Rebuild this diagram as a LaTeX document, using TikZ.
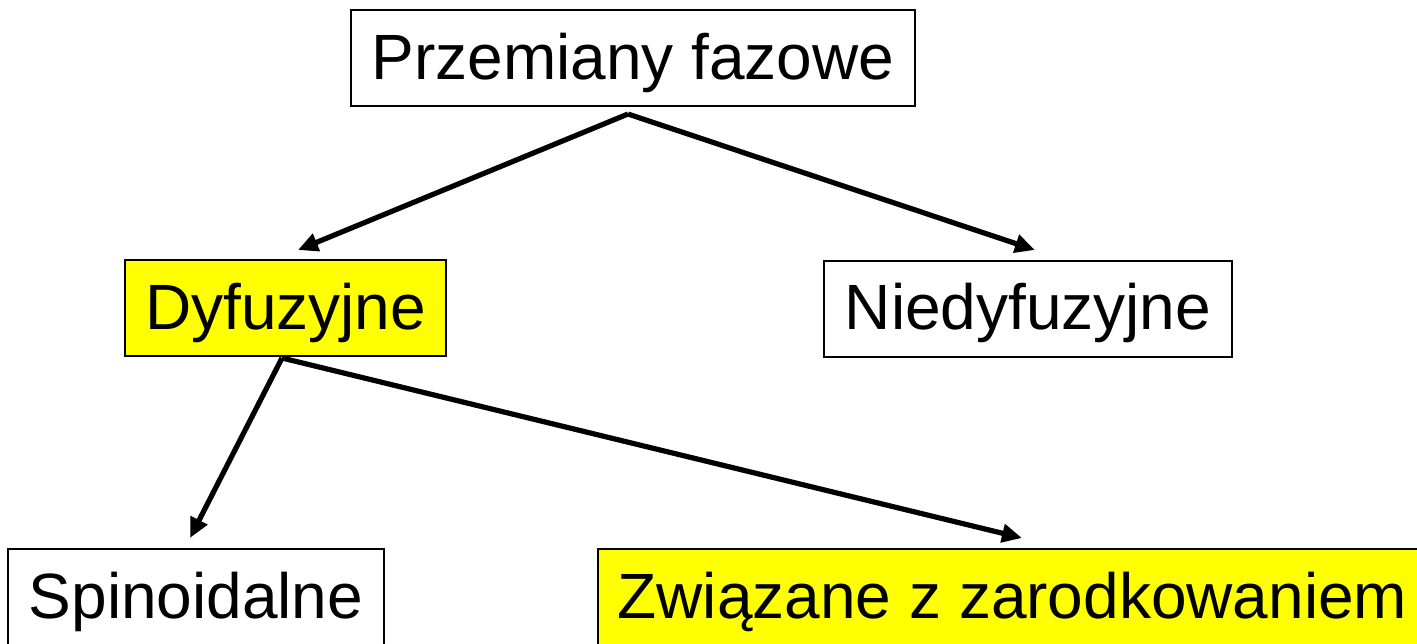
\documentclass[tikz,border=0pt]{standalone}
\usepackage{fontspec}
\setmainfont{Liberation Sans}
\usetikzlibrary{arrows.meta}
\definecolor{hlyellow}{RGB}{255,255,0}
\begin{document}
\begin{tikzpicture}[x=0.5pt,y=-0.5pt,
  box/.style={draw=black,line width=1pt,fill=white,font=\fontsize{32}{38}\selectfont,
    inner sep=0pt,minimum height=48pt,text height=23pt,text depth=1.8pt,anchor=center},
  hl/.style={box,fill=hlyellow},
  link/.style={line width=2.6pt,-{Triangle[length=10pt,width=9pt]}}]
\useasboundingbox (0,0) rectangle (1417,643);
\clip (0,0) rectangle (1417,643);

% category boxes
\node[box, minimum width=282pt]   (top)  at (633,58)    {Przemiany fazowe};
\node[hl,  minimum width=160.5pt] (dyf)  at (285.5,308) {Dyfuzyjne};
\node[box, minimum width=204pt]   (ndyf) at (1028,308.5){Niedyfuzyjne};
\node[box, minimum width=188pt]   (spin) at (196,597)   {Spinoidalne};
\node[hl,  minimum width=414.5pt] (zar)  at (1012.5,597){Związane z zarodkowaniem};

% branch points and arrow targets
\coordinate (topout) at (628,114);
\coordinate (dyfout) at (282,358);
\coordinate (toDyf)  at (298,250);
\coordinate (toNdyf) at (1035,250);
\coordinate (toSpin) at (190,538);
\coordinate (toZar)  at (1022,538);

\draw[link] (topout) -- (toDyf);
\draw[link] (topout) -- (toNdyf);
\draw[link] (dyfout) -- (toSpin);
\draw[link] (dyfout) -- (toZar);
\end{tikzpicture}
\end{document}
